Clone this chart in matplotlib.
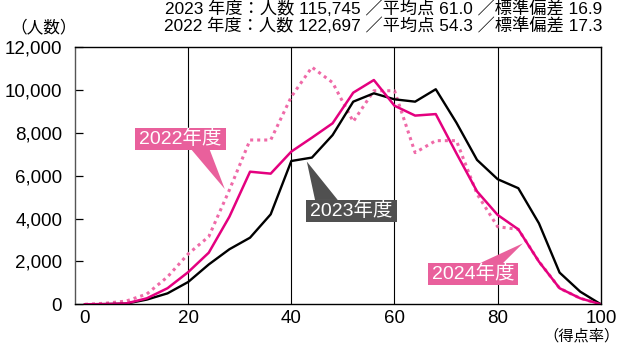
import matplotlib
matplotlib.use('Agg')
import matplotlib.pyplot as plt
from matplotlib.patches import Rectangle, Polygon
from matplotlib.ticker import FuncFormatter

plt.rcParams['font.family'] = ['Liberation Sans', 'Noto Sans CJK JP']

# score rate (%) bins
score = [0, 4, 8, 12, 16, 20, 24, 28, 32, 36, 40, 44, 48, 52, 56, 60, 64,
         68, 72, 76, 80, 84, 88, 92, 96, 100]

# number of examinees per bin
y2022 = [0, 50, 150, 480, 1280, 2350, 3160, 5340, 7670, 7670, 9690, 11070,
         10350, 8530, 9970, 9970, 7080, 7640, 7640, 5150, 3620, 3500, 2000,
         750, 280, 0]
y2023 = [0, 10, 30, 220, 510, 1040, 1860, 2570, 3110, 4200, 6690, 6850,
         7900, 9460, 9850, 9570, 9460, 10040, 8480, 6740, 5840, 5420, 3780,
         1480, 590, 0]
y2024 = [0, 10, 40, 280, 750, 1500, 2410, 4090, 6190, 6100, 7130, 7780,
         8450, 9880, 10470, 9270, 8810, 8880, 7050, 5270, 4170, 3500, 1990,
         750, 280, 0]

header = ['2023 年度：人数 115,745 ／平均点 61.0 ／標準偏差 16.9',
          '2022 年度：人数 122,697 ／平均点 54.3 ／標準偏差 17.3']

magenta = '#E4007F'
pink_dot = '#EF6AA8'
pink_box = '#E9609C'
gray_box = '#505050'

fig = plt.figure(figsize=(6.22, 3.45), dpi=100)
ax = fig.add_axes([0.120, 0.118, 0.846, 0.745])

ax.plot(score, y2022, color=pink_dot, lw=2.2, linestyle=(0, (1, 1.3)))
ax.plot(score, y2023, color='black', lw=1.7)
ax.plot(score, y2024, color=magenta, lw=1.8)

for xv in [20, 40, 60, 80]:
    ax.axvline(xv, color='black', lw=0.8, zorder=0)

ax.set_xlim(-2, 100)
ax.set_ylim(0, 12000)
ax.set_xticks([0, 20, 40, 60, 80, 100])
ax.set_yticks(range(0, 12001, 2000))
ax.yaxis.set_major_formatter(FuncFormatter(lambda v, p: f'{int(v):,}'))
ax.tick_params(axis='y', direction='in', length=6, width=0.9, pad=9, labelsize=13.5)
ax.tick_params(axis='x', length=0, pad=4, labelsize=13.5)
for s in ax.spines.values():
    s.set_linewidth(1.0)
ax.spines['left'].set_color('#555555')


# callout: label box (x0, x1, y0, y1) + wedge (base x0, base x1, base y, tip x, tip y)
def callout(text, box, wedge, color):
    x0, x1, y0, y1 = box
    ax.add_patch(Rectangle((x0, y0), x1 - x0, y1 - y0, fc=color, ec='none', zorder=5))
    bx0, bx1, by, tx, ty = wedge
    ax.add_patch(Polygon([(bx0, by), (bx1, by), (tx, ty)], closed=True,
                         fc=color, ec='none', zorder=5))
    ax.text((x0 + x1) / 2, (y0 + y1) / 2, text, ha='center', va='center',
            fontsize=14, color='white', zorder=6)


callout('2022年度', (9.7, 27.3, 7204, 8231), (20.7, 24.2, 7204, 27.1, 5383), pink_box)
callout('2023年度', (42.8, 60.5, 3843, 4870), (44.6, 49.0, 4870, 43.0, 6667), gray_box)
callout('2024年度', (66.4, 84.0, 901, 1914), (76.5, 81.0, 1914, 84.9, 2848), pink_box)

fig.text(0.969, 1 - 9 / 345, header[0], ha='right', va='center', fontsize=12.4)
fig.text(0.969, 1 - 26 / 345, header[1], ha='right', va='center', fontsize=12.4)
fig.text(44 / 622, 1 - 27 / 345, '（人数）', ha='center', va='center', fontsize=12)
fig.text(581 / 622, 1.5 / 345, '（得点率）', ha='center', va='bottom', fontsize=11)

fig.savefig('out.png', dpi=100)
